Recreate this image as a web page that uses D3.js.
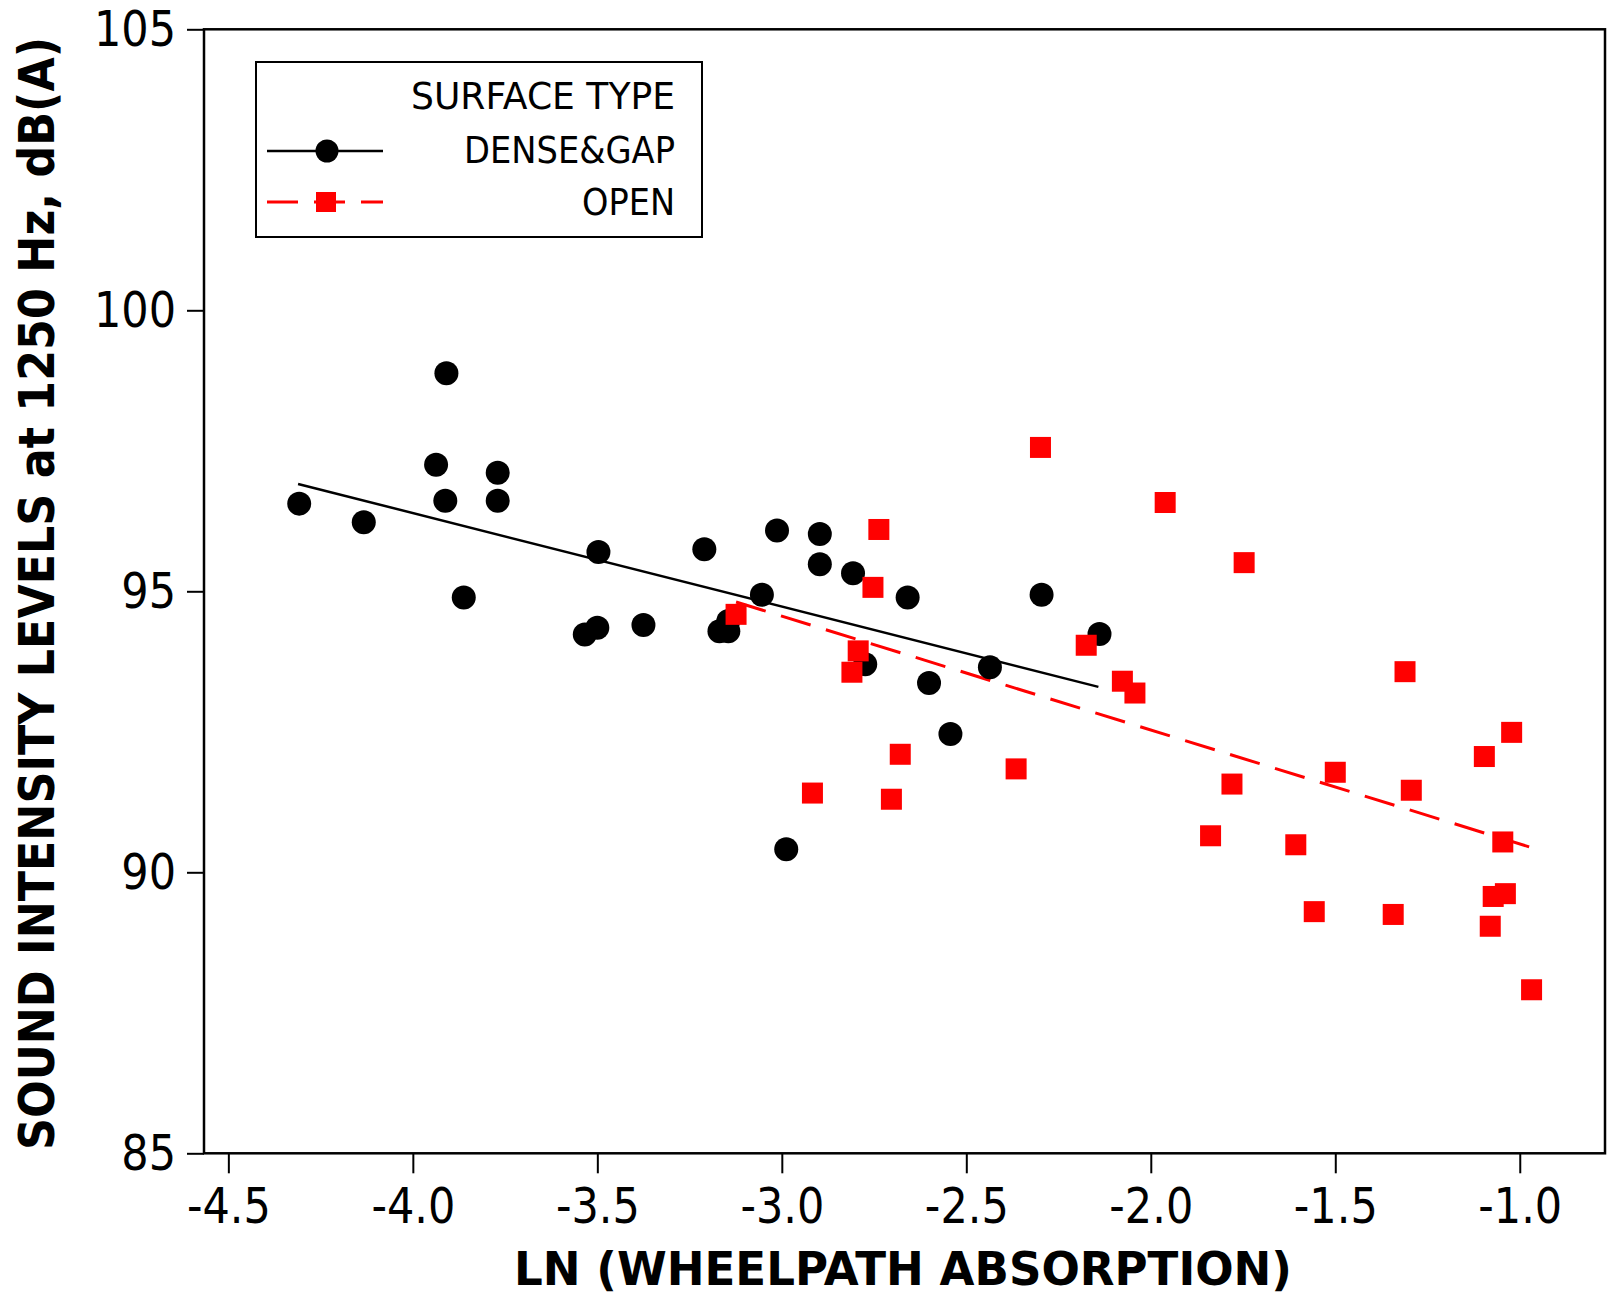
<!DOCTYPE html>
<html>
<head>
<meta charset="utf-8">
<script src="https://cdn.jsdelivr.net/npm/d3@7"></script>
<style>
    body { margin: 0; background: white; }
    text { font-family: "DejaVu Sans", Verdana, sans-serif; }
</style>
</head>
<body>
<div id="chart"></div>
<script>
// values
let xTicks = [-4.5, -4.0, -3.5, -3.0, -2.5, -2.0, -1.5, -1.0];
let yTicks = [85, 90, 95, 100, 105];

let denseGap = [
    [-4.308, 96.56], [-4.133, 96.23], [-3.909, 98.88], [-3.937, 97.25], [-3.912, 96.61],
    [-3.862, 94.89], [-3.770, 97.11], [-3.770, 96.61], [-3.497, 95.70], [-3.534, 94.23],
    [-3.500, 94.35], [-3.375, 94.40], [-3.210, 95.75], [-3.169, 94.29], [-3.145, 94.29],
    [-3.145, 94.47], [-3.054, 94.94], [-3.013, 96.08], [-2.897, 96.02], [-2.897, 95.48],
    [-2.807, 95.32], [-2.774, 93.70], [-2.659, 94.89], [-2.601, 93.37], [-2.543, 92.46],
    [-2.436, 93.65], [-2.296, 94.94], [-2.139, 94.24], [-2.988, 90.41]
];
let openSurf = [
    [-2.299, 97.56], [-2.737, 96.10], [-2.753, 95.07], [-3.124, 94.59], [-2.793, 93.94],
    [-2.810, 93.56], [-2.175, 94.04], [-2.077, 93.40], [-2.043, 93.19], [-2.679, 92.10],
    [-2.365, 91.84], [-2.917, 91.41], [-2.703, 91.30], [-1.961, 96.58], [-1.747, 95.51],
    [-1.311, 93.57], [-1.022, 92.49], [-1.096, 92.06], [-1.500, 91.78], [-1.780, 91.57],
    [-1.294, 91.46], [-1.838, 90.65], [-1.607, 90.49], [-1.046, 90.54], [-1.072, 89.57],
    [-1.039, 89.62], [-1.557, 89.30], [-1.343, 89.25], [-1.080, 89.04], [-0.968, 87.91]
];
let denseFit = [[-4.311, 96.91], [-2.142, 93.30]];
let openFit = [[-3.124, 94.81], [-0.963, 90.43]];

let legendTitle = "SURFACE TYPE";
let seriesNames = ["DENSE&GAP", "OPEN"];
let xTitle = "LN (WHEELPATH ABSORPTION)";
let yTitle = "SOUND INTENSITY LEVELS at 1250 Hz, dB(A)";

let width = 1612, height = 1299;
let plotLeft = 204, plotRight = 1605, plotTop = 29.3, plotBottom = 1153.3;

let svg = d3.select("#chart").append("svg")
    .attr("width", width)
    .attr("height", height)
    .style("background", "white");

let x = d3.scaleLinear().domain([-4.566, -0.769]).range([plotLeft, plotRight]);
let y = d3.scaleLinear().domain([85, 105]).range([plotBottom, plotTop]);

function squeeze(sel, k) {
    sel.each(function () {
        let w = this.getComputedTextLength();
        d3.select(this).attr("textLength", w * k).attr("lengthAdjust", "spacingAndGlyphs");
    });
}

// axes
let xAxis = svg.append("g")
    .attr("transform", "translate(0," + plotBottom + ")")
    .call(d3.axisBottom(x).tickValues(xTicks).tickSize(20).tickPadding(14).tickFormat(d => d.toFixed(1)));
let yAxis = svg.append("g")
    .attr("transform", "translate(" + plotLeft + ",0)")
    .call(d3.axisLeft(y).tickValues(yTicks).tickSize(17).tickPadding(11).tickFormat(d => d));

[xAxis, yAxis].forEach(function (g) {
    g.select(".domain").remove();
    g.selectAll(".tick line").attr("stroke", "black").attr("stroke-width", 2);
    g.selectAll(".tick text")
        .attr("fill", "black")
        .style("font-size", "50px");
    squeeze(g.selectAll(".tick text"), 0.86);
});

// frame
svg.append("rect")
    .attr("x", plotLeft)
    .attr("y", plotTop)
    .attr("width", plotRight - plotLeft)
    .attr("height", plotBottom - plotTop)
    .style("fill", "none")
    .style("stroke", "black")
    .style("stroke-width", 2.5);

let line = d3.line().x(d => x(d[0])).y(d => y(d[1]));

svg.append("path")
    .attr("d", line(denseFit))
    .style("fill", "none")
    .style("stroke", "black")
    .style("stroke-width", 2.5);

svg.append("path")
    .attr("d", line(openFit))
    .style("fill", "none")
    .style("stroke", "#ff0000")
    .style("stroke-width", 3)
    .style("stroke-dasharray", "31,16");

svg.selectAll()
    .data(denseGap)
    .enter()
    .append("circle")
    .attr("cx", d => x(d[0]))
    .attr("cy", d => y(d[1]))
    .attr("r", 12)
    .style("fill", "black");

let sq = 21;
svg.selectAll()
    .data(openSurf)
    .enter()
    .append("rect")
    .attr("x", d => x(d[0]) - sq / 2)
    .attr("y", d => y(d[1]) - sq / 2)
    .attr("width", sq)
    .attr("height", sq)
    .style("fill", "#ff0000");

// legend
let legend = svg.append("g");
legend.append("rect")
    .attr("x", 256).attr("y", 62)
    .attr("width", 446).attr("height", 175)
    .style("fill", "white")
    .style("stroke", "black")
    .style("stroke-width", 2);

legend.selectAll()
    .data([legendTitle].concat(seriesNames))
    .enter()
    .append("text")
    .attr("x", 675)
    .attr("y", (d, i) => [109, 163, 215][i])
    .attr("text-anchor", "end")
    .attr("textLength", (d, i) => [264, 211, 93][i])
    .attr("lengthAdjust", "spacingAndGlyphs")
    .style("font-size", "37px")
    .text(d => d);

legend.append("line")
    .attr("x1", 267).attr("x2", 383).attr("y1", 151).attr("y2", 151)
    .style("stroke", "black").style("stroke-width", 2.5);
legend.append("circle")
    .attr("cx", 327).attr("cy", 151).attr("r", 11.5)
    .style("fill", "black");
legend.append("line")
    .attr("x1", 267).attr("x2", 383).attr("y1", 202).attr("y2", 202)
    .style("stroke", "#ff0000").style("stroke-width", 3)
    .style("stroke-dasharray", "31,16");
legend.append("rect")
    .attr("x", 316).attr("y", 192).attr("width", 20).attr("height", 20)
    .style("fill", "#ff0000");

// axis titles
svg.append("text")
    .attr("x", 903)
    .attr("y", 1285)
    .attr("text-anchor", "middle")
    .attr("textLength", 778)
    .attr("lengthAdjust", "spacingAndGlyphs")
    .style("font-size", "46px")
    .style("font-weight", "bold")
    .text(xTitle);

svg.append("text")
    .attr("transform", "translate(54,593.5) rotate(-90)")
    .attr("text-anchor", "middle")
    .attr("textLength", 1113)
    .attr("lengthAdjust", "spacingAndGlyphs")
    .style("font-size", "49px")
    .style("font-weight", "bold")
    .text(yTitle);
</script>
</body>
</html>
